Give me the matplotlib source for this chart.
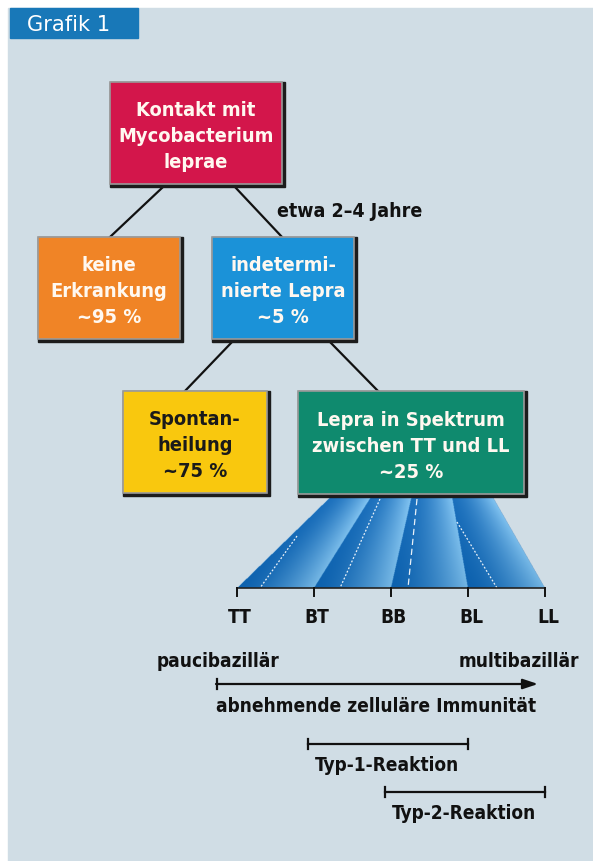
import numpy as np
import matplotlib.pyplot as plt
from matplotlib import font_manager as fm
from matplotlib.patches import Rectangle

# --- data -------------------------------------------------------------
box_labels = [
    ["Kontakt mit", "Mycobacterium", "leprae"],
    ["keine", "Erkrankung", "~95 %"],
    ["indetermi-", "nierte Lepra", "~5 %"],
    ["Spontan-", "heilung", "~75 %"],
    ["Lepra in Spektrum", "zwischen TT und LL", "~25 %"],
]
box_colors = ["#d3164b", "#f08426", "#1b92d8", "#f9c80e", "#0f8a6e"]
box_text_colors = ["#fff8f0", "#fff8f0", "#fff8f0", "#1a1a1a", "#fff8f0"]
edge_note = "etwa 2\u20134 Jahre"

spectrum = ["TT", "BT", "BB", "BL", "LL"]
reactions = [("Typ-1-Reaktion", 1, 3), ("Typ-2-Reaktion", 2, 4)]
axis_left, axis_right = "paucibazillär", "multibazillär"
axis_caption = "abnehmende zelluläre Immunität"
title = "Grafik 1"

# --- layout (pixels) --------------------------------------------------
W, H = 593, 862
box_pos = [(110, 83, 282, 185), (38, 238, 180, 340), (212, 238, 354, 340),
           (123, 392, 267, 494), (298, 392, 524, 495)]
edge_pts = [((163, 188), (110, 238)), ((235, 188), (282, 238)),
            ((232, 343), (185, 392)), ((330, 343), (378, 392))]
fan_top = (330, 493, 498)
fan_bot = (237, 545, 589)

# pick a narrow face if one is there
entries = fm.fontManager.ttflist
if any(e.name == "Liberation Sans Narrow" for e in entries):
    FONT, STRETCH = ["Liberation Sans Narrow", "DejaVu Sans"], "normal"
elif any(e.name == "DejaVu Sans" and e.stretch == "condensed" for e in entries):
    FONT, STRETCH = ["DejaVu Sans"], "condensed"
else:
    FONT, STRETCH = ["Lato", "DejaVu Sans"], "normal"
plt.rcParams["font.family"] = FONT
plt.rcParams["font.stretch"] = STRETCH


def pt(px):
    return px * 0.72


fig = plt.figure(figsize=(W / 100, H / 100), dpi=100)
ax = fig.add_axes([0, 0, 1, 1])
ax.set_xlim(0, W)
ax.set_ylim(H, 0)
ax.axis("off")

# background panel and title tab
ax.add_patch(Rectangle((8, 9), W - 8, H - 9, color="#d0dde5", zorder=0))
ax.add_patch(Rectangle((10, 9), 128, 30, color="#1878b8", zorder=1))
ax.text(27, 25, title, color="white", fontsize=pt(21), va="center",
        ha="left", family=["DejaVu Sans"], stretch="normal")

# tree lines
for (p0, p1) in edge_pts:
    ax.plot([p0[0], p1[0]], [p0[1], p1[1]], color="#111111", lw=1.6, zorder=2)
ax.text(277, 212, edge_note, fontsize=pt(19.5), fontweight="bold",
        color="#111111", va="center", ha="left")

# boxes
for lab, col, tcol, (x0, y0, x1, y1) in zip(box_labels, box_colors,
                                          box_text_colors, box_pos):
    ax.add_patch(Rectangle((x0, y0), x1 - x0 + 3, y1 - y0 + 3,
                           color="#1c1c1c", zorder=3))
    ax.add_patch(Rectangle((x0, y0), x1 - x0, y1 - y0, facecolor=col,
                           edgecolor="#9a9a9a", lw=1.2, zorder=4))
    cx, cy = (x0 + x1) / 2, (y0 + y1) / 2
    for i, line in enumerate(lab):
        ax.text(cx, cy + (i - 1) * 26 + 3, line, color=tcol,
                fontsize=pt(20), fontweight="bold", ha="center",
                va="center", zorder=5)

# spectrum fan with gradient bands
n_bands = len(spectrum) - 1
xs = np.linspace(fan_bot[0] - 2, fan_bot[1] + 2, 660)
ys = np.linspace(fan_top[2], fan_bot[2], 190)
X, Y = np.meshgrid(xs, ys)
f = (Y - fan_top[2]) / (fan_bot[2] - fan_top[2])
L = fan_top[0] + (fan_bot[0] - fan_top[0]) * f
R = fan_top[1] + (fan_bot[1] - fan_top[1]) * f
u = (X - L) / (R - L)
t = (u * n_bands) % 1.0
dark = np.array([0.05, 0.38, 0.68])
light = np.array([0.45, 0.71, 0.89])
img = np.zeros(X.shape + (4,))
img[..., :3] = dark + (light - dark) * (t[..., None] ** 1.6)
img[..., :3] += (1 - f[..., None]) * 0.06
img = np.clip(img, 0, 1)
img[..., 3] = ((u >= 0) & (u <= 1)).astype(float)
ax.imshow(img, extent=(xs[0], xs[-1], ys[-1], ys[0]), origin="upper",
          interpolation="bilinear", zorder=1, aspect="auto")

# white dashed lines inside the fan
dash_lines = [((297, 537), (260, 589), (0, (1.5, 1.5))),
              ((380, 500), (340, 589), (0, (1.5, 1.5))),
              ((417, 500), (408, 589), (0, (5, 3))),
              ((457, 523), (497, 589), (0, (1.5, 1.5)))]
for p0, p1, ls in dash_lines:
    ax.plot([p0[0], p1[0]], [p0[1], p1[1]], color="white", lw=0.9,
            ls=ls, zorder=2, alpha=0.9)

# baseline ticks and labels
tick_x = np.linspace(fan_bot[0], fan_bot[1], len(spectrum))
ax.plot([fan_bot[0], fan_bot[1]], [fan_bot[2], fan_bot[2]],
        color="#222222", lw=1.2, zorder=2)
for x, lab in zip(tick_x, spectrum):
    ax.plot([x, x], [fan_bot[2], fan_bot[2] + 8], color="#111111",
            lw=1.4, zorder=2)
    ax.text(x + 3, 618, lab, fontsize=pt(19), fontweight="bold",
            color="#111111", ha="center", va="center")

# immunity axis
ax.text(157, 662, axis_left, fontsize=pt(19), fontweight="bold",
        color="#111111", ha="left", va="center")
ax.text(579, 662, axis_right, fontsize=pt(19), fontweight="bold",
        color="#111111", ha="right", va="center")
ax.annotate("", xy=(538, 685), xytext=(216, 685),
            arrowprops=dict(arrowstyle="-|>,head_length=0.9,head_width=0.3",
                            color="#111111", lw=1.6, shrinkA=0, shrinkB=0))
ax.plot([217, 217], [680, 690], color="#111111", lw=1.6)
ax.text(376, 707, axis_caption, fontsize=pt(19), fontweight="bold",
        color="#111111", ha="center", va="center")

# reaction ranges
for k, (lab, i0, i1) in enumerate(reactions):
    y = 745 + 48 * k
    x0, x1 = tick_x[i0] - 6, tick_x[i1]
    ax.plot([x0, x1], [y, y], color="#111111", lw=1.6)
    for x in (x0, x1):
        ax.plot([x, x], [y - 5, y + 5], color="#111111", lw=1.6)
    ax.text((x0 + x1) / 2 - 1, y + 21, lab, fontsize=pt(19),
            fontweight="bold", color="#111111", ha="center", va="center")

fig.savefig("out.png", dpi=100, facecolor="white")
